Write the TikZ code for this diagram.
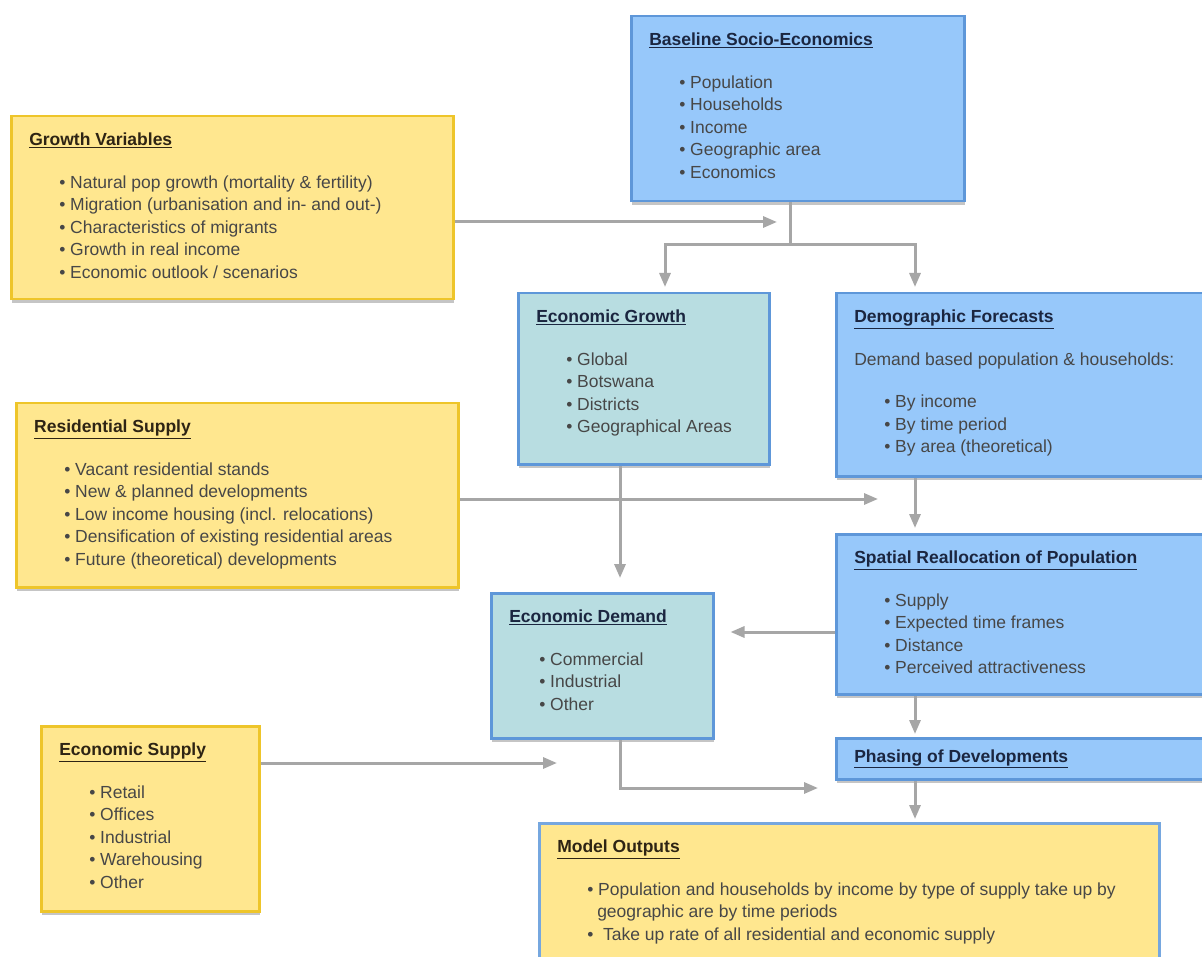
\documentclass[tikz,border=0pt]{standalone}
\usepackage{fontspec}
\setmainfont{Liberation Sans}
\usetikzlibrary{arrows.meta,shadows}

\definecolor{boxblue}{HTML}{97C8FA}
\definecolor{edgeblue}{HTML}{5E97D9}
\definecolor{boxteal}{HTML}{B8DDE1}
\definecolor{boxyellow}{HTML}{FFE78F}
\definecolor{edgegold}{HTML}{EEC52A}
\definecolor{flowgray}{HTML}{A6A6A6}
\definecolor{titleblue}{HTML}{1B2640}
\definecolor{titlebrown}{HTML}{2E2414}
\definecolor{bodygray}{HTML}{474747}
\colorlet{ttl}{titleblue}

\newcommand{\panelbox}[4]{%
  \parbox[t][#2pt][t]{#1pt}{\raggedright
    {\color{ttl}\bfseries\underline{#3}}\par\vspace{20pt}#4}}
\newcommand{\itm}[1]{\par\hspace*{30pt}\textbullet\ #1}

\tikzset{
  panel/.style={draw, line width=2.5pt, anchor=north west,
    inner xsep=18pt, inner ysep=17pt, text=bodygray,
    font=\fontsize{17.5pt}{22.5pt}\selectfont,
    drop shadow={shadow xshift=1pt, shadow yshift=-3.5pt, opacity=0.45}},
  bluepanel/.style={panel, fill=boxblue, draw=edgeblue,
    execute at begin node={\colorlet{ttl}{titleblue}}},
  tealpanel/.style={panel, fill=boxteal, draw=edgeblue,
    execute at begin node={\colorlet{ttl}{titleblue}}},
  goldpanel/.style={panel, fill=boxyellow, draw=edgegold,
    execute at begin node={\colorlet{ttl}{titlebrown}}},
  outpanel/.style={panel, fill=boxyellow, draw=edgeblue!85,
    execute at begin node={\colorlet{ttl}{titlebrown}}},
  link/.style={draw=flowgray, line width=3pt},
  flow/.style={link, -{Triangle[length=14pt,width=11pt]}}
}

\begin{document}
\begin{tikzpicture}[x=1pt,y=-1pt]
  \path[use as bounding box, fill=white] (0,0) rectangle (1202,957);
  \clip (0,0) rectangle (1202,957);

  % boxes
  \node[bluepanel] (base) at (630,15) {\panelbox{297}{151}{Baseline Socio-Economics}{%
    \itm{Population}\itm{Households}\itm{Income}\itm{Geographic area}\itm{Economics}}};
  \node[goldpanel] (growth) at (10,115) {\panelbox{406}{149}{Growth Variables}{%
    \itm{Natural pop growth (mortality \& fertility)}
    \itm{Migration (urbanisation and in- and out-)}
    \itm{Characteristics of migrants}
    \itm{Growth in real income}
    \itm{Economic outlook / scenarios}}};
  \node[tealpanel] (egrowth) at (517,292) {\panelbox{215}{137}{Economic Growth}{%
    \itm{Global}\itm{Botswana}\itm{Districts}\itm{Geographical Areas}}};
  \node[bluepanel] (demo) at (835,292) {\panelbox{364}{149}{Demographic Forecasts}{%
    Demand based population \& households:\par\vspace{20pt}
    \itm{By income}\itm{By time period}\itm{By area (theoretical)}}};
  \node[goldpanel] (res) at (15,402) {\panelbox{406}{150}{Residential Supply}{%
    \itm{Vacant residential stands}
    \itm{New \& planned developments}
    \itm{Low income housing (incl. relocations)}
    \itm{Densification of existing residential areas}
    \itm{Future (theoretical) developments}}};
  \node[bluepanel] (spatial) at (835,533) {\panelbox{364}{126}{Spatial Reallocation of Population}{%
    \itm{Supply}\itm{Expected time frames}\itm{Distance}\itm{Perceived attractiveness}}};
  \node[tealpanel] (edemand) at (490,592) {\panelbox{186}{111}{Economic Demand}{%
    \itm{Commercial}\itm{Industrial}\itm{Other}}};
  \node[goldpanel] (esupply) at (40,725) {\panelbox{182}{151}{Economic Supply}{%
    \itm{Retail}\itm{Offices}\itm{Industrial}\itm{Warehousing}\itm{Other}}};
  \node[bluepanel, inner ysep=10pt, minimum height=41pt] (phasing) at (835,737)
    {\parbox{364pt}{\color{ttl}\bfseries\underline{Phasing of Developments}}};
  \node[outpanel] (model) at (538,822) {\panelbox{584}{160}{Model Outputs}{%
    \itm{Population and households by income by type of supply take up by}
    \par\hspace*{40pt}geographic are by time periods
    \itm{\ Take up rate of all residential and economic supply}}};

  % connector points
  \coordinate (gvTip) at (777,222);
  \coordinate (rsTip) at (878,499);
  \coordinate (esTip) at (557,763);
  \coordinate (pdTip) at (818,788);
  \coordinate (split) at (790,245);
  \coordinate (colL) at (620,0);
  \coordinate (colM) at (665,0);
  \coordinate (colR) at (915,0);
  \coordinate (rowS) at (0,632);

  \draw[flow] (growth.east |- gvTip) -- (gvTip);
  \draw[link] (base.south -| split) -- (split);
  \draw[flow, shorten >=5pt] (split) -| (egrowth.north -| colM);
  \draw[flow, shorten >=5pt] (split) -| (demo.north -| colR);
  \draw[flow] (res.east |- rsTip) -- (rsTip);
  \draw[flow, shorten >=14pt] (egrowth.south -| colL) -- (edemand.north -| colL);
  \draw[flow, shorten >=5pt] (demo.south -| colR) -- (spatial.north -| colR);
  \draw[flow, shorten >=16pt] (spatial.west |- rowS) -- (edemand.east |- rowS);
  \draw[flow, shorten >=3pt] (spatial.south -| colR) -- (phasing.north -| colR);
  \draw[flow, shorten >=3pt] (phasing.south -| colR) -- (model.north -| colR);
  \draw[flow] (esupply.east |- esTip) -- (esTip);
  \draw[flow] (edemand.south -| colL) |- (pdTip);
\end{tikzpicture}
\end{document}
